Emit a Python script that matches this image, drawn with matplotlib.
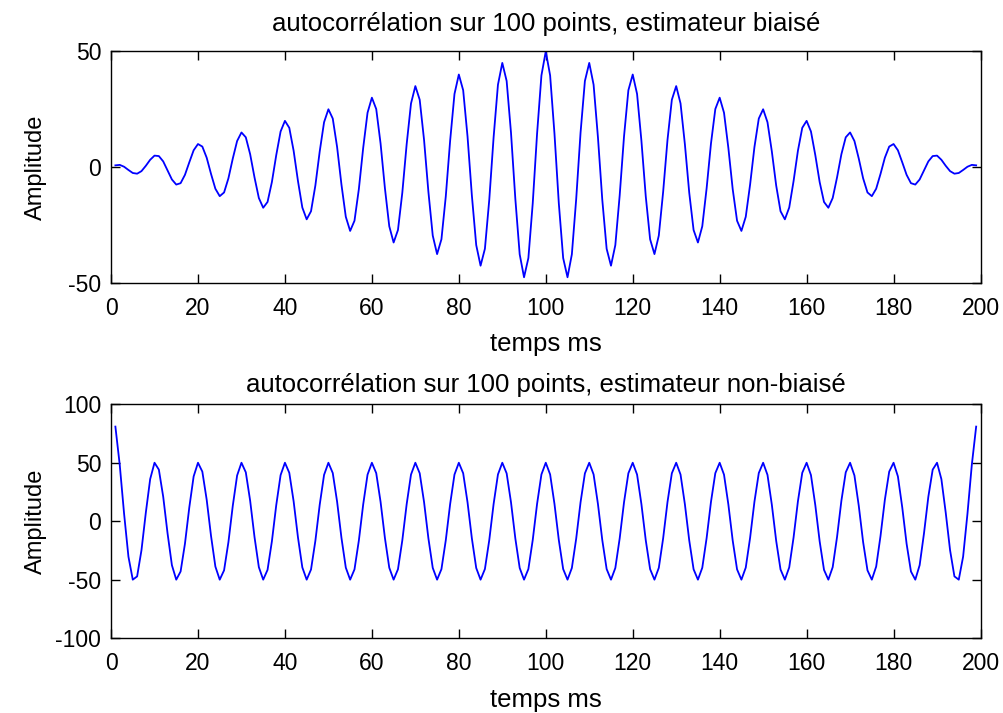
import matplotlib
matplotlib.use("Agg")
import matplotlib.pyplot as plt

# Time axis (ms), one sample per ms, lag 0 at t = 100
temps = list(range(1, 200))

# Biased autocorrelation estimate
biaise = [
    0.8, 1.0, 0.2, -1.2, -2.5, -2.8, -1.7, 0.6, 3.2, 5.0,
    4.8, 2.5, -1.4, -5.3, -7.5, -6.9, -3.3, 2.1, 7.3, 10.0,
    8.9, 4.1, -2.9, -9.3, -12.5, -10.9, -4.8, 3.7, 11.3, 15.0,
    12.9, 5.6, -4.4, -13.3, -17.5, -15.0, -6.4, 5.2, 15.4, 20.0,
    17.0, 7.1, -6.0, -17.4, -22.5, -19.0, -7.9, 6.8, 19.4, 25.0,
    21.0, 8.7, -7.5, -21.4, -27.5, -23.1, -9.5, 8.3, 23.5, 30.0,
    25.1, 10.2, -9.1, -25.5, -32.5, -27.1, -11.0, 9.9, 27.5, 35.0,
    29.1, 11.8, -10.6, -29.5, -37.5, -31.1, -12.6, 11.4, 31.6, 40.0,
    33.2, 13.3, -12.2, -33.6, -42.5, -35.2, -14.1, 12.9, 35.6, 45.0,
    37.2, 14.9, -13.7, -37.6, -47.5, -39.2, -15.6, 14.5, 39.6, 50.0,
    39.6, 14.5, -15.6, -39.2, -47.5, -37.6, -13.7, 14.9, 37.2, 45.0,
    35.6, 12.9, -14.1, -35.2, -42.5, -33.6, -12.2, 13.3, 33.2, 40.0,
    31.6, 11.4, -12.6, -31.1, -37.5, -29.5, -10.6, 11.8, 29.1, 35.0,
    27.5, 9.9, -11.0, -27.1, -32.5, -25.5, -9.1, 10.2, 25.1, 30.0,
    23.5, 8.3, -9.5, -23.1, -27.5, -21.4, -7.5, 8.7, 21.0, 25.0,
    19.4, 6.8, -7.9, -19.0, -22.5, -17.4, -6.0, 7.1, 17.0, 20.0,
    15.4, 5.2, -6.4, -15.0, -17.5, -13.3, -4.4, 5.6, 12.9, 15.0,
    11.3, 3.7, -4.8, -10.9, -12.5, -9.3, -2.9, 4.1, 8.9, 10.0,
    7.3, 2.1, -3.3, -6.9, -7.5, -5.3, -1.4, 2.5, 4.8, 5.0,
    3.2, 0.6, -1.7, -2.8, -2.5, -1.2, 0.2, 1.0, 0.8,
]

# Unbiased autocorrelation estimate
non_biaise = [
    80.9, 48.2, 6.4, -30.3, -50.0, -47.2, -24.8, 7.3, 36.0, 50.0,
    44.1, 20.9, -10.4, -37.6, -50.0, -43.0, -19.3, 11.8, 38.3, 50.0,
    42.4, 18.4, -12.6, -38.8, -50.0, -42.0, -17.9, 13.1, 39.1, 50.0,
    41.8, 17.5, -13.5, -39.3, -50.0, -41.6, -17.2, 13.7, 39.4, 50.0,
    41.4, 17.0, -13.9, -39.5, -50.0, -41.3, -16.8, 14.1, 39.6, 50.0,
    41.2, 16.7, -14.2, -39.7, -50.0, -41.2, -16.6, 14.3, 39.8, 50.0,
    41.1, 16.5, -14.4, -39.8, -50.0, -41.1, -16.4, 14.5, 39.9, 50.0,
    41.0, 16.4, -14.6, -39.9, -50.0, -41.0, -16.3, 14.6, 39.9, 50.0,
    41.0, 16.2, -14.7, -40.0, -50.0, -40.9, -16.2, 14.7, 40.0, 50.0,
    40.9, 16.2, -14.8, -40.0, -50.0, -40.9, -16.1, 14.8, 40.0, 50.0,
    40.0, 14.8, -16.1, -40.9, -50.0, -40.0, -14.8, 16.2, 40.9, 50.0,
    40.0, 14.7, -16.2, -40.9, -50.0, -40.0, -14.7, 16.2, 41.0, 50.0,
    39.9, 14.6, -16.3, -41.0, -50.0, -39.9, -14.6, 16.4, 41.0, 50.0,
    39.9, 14.5, -16.4, -41.1, -50.0, -39.8, -14.4, 16.5, 41.1, 50.0,
    39.8, 14.3, -16.6, -41.2, -50.0, -39.7, -14.2, 16.7, 41.2, 50.0,
    39.6, 14.1, -16.8, -41.3, -50.0, -39.5, -13.9, 17.0, 41.4, 50.0,
    39.4, 13.7, -17.2, -41.6, -50.0, -39.3, -13.5, 17.5, 41.8, 50.0,
    39.1, 13.1, -17.9, -42.0, -50.0, -38.8, -12.6, 18.4, 42.4, 50.0,
    38.3, 11.8, -19.3, -43.0, -50.0, -37.6, -10.4, 20.9, 44.1, 50.0,
    36.0, 7.3, -24.8, -47.2, -50.0, -30.3, 6.4, 48.2, 80.9,
]

x_ticks = list(range(0, 201, 20))
titres = [
    "autocorrélation sur 100 points, estimateur biaisé",
    "autocorrélation sur 100 points, estimateur non-biaisé",
]

plt.rcParams["font.family"] = ["Liberation Sans", "DejaVu Sans"]
plt.rcParams["axes.unicode_minus"] = False

fig = plt.figure(figsize=(10.04, 7.13), dpi=100)
ax1 = fig.add_axes([0.1106, 0.603, 0.866, 0.325])
ax2 = fig.add_axes([0.1106, 0.105, 0.866, 0.328])

for ax, serie, titre, ylim, yticks, tpad in [
    (ax1, biaise, titres[0], (-50, 50), [-50, 0, 50], 15),
    (ax2, non_biaise, titres[1], (-100, 100), [-100, -50, 0, 50, 100], 9),
]:
    ax.plot(temps, serie, color="#0000ff", linewidth=1.3)
    ax.set_xlim(0, 200)
    ax.set_ylim(*ylim)
    ax.set_xticks(x_ticks)
    ax.set_yticks(yticks)
    ax.tick_params(direction="in", top=True, right=True, length=6.5,
                   width=1, labelsize=16.5)
    ax.tick_params(axis="x", pad=10)
    ax.tick_params(axis="y", pad=7)
    for s in ax.spines.values():
        s.set_linewidth(1)
    ax.set_title(titre, fontsize=18.5, pad=tpad)
    ax.set_xlabel("temps ms", fontsize=18.5, labelpad=9)
    ax.set_ylabel("Amplitude", fontsize=17)
    ax.yaxis.set_label_coords(-0.074, 0.5)

fig.savefig("out.png", dpi=100)
